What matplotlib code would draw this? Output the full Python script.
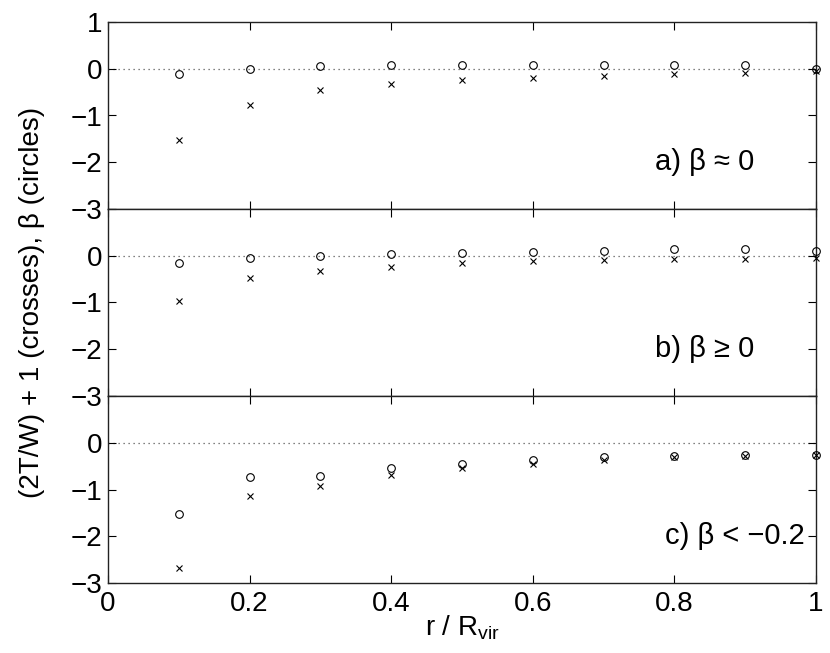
import matplotlib.pyplot as plt
import numpy as np

plt.rcParams['font.family'] = ['Liberation Sans', 'DejaVu Sans']

# radius in units of R_vir
r = [0.1, 0.2, 0.3, 0.4, 0.5, 0.6, 0.7, 0.8, 0.9, 1.0]

# a) beta ~ 0
virial_a = [-1.53, -0.78, -0.46, -0.33, -0.25, -0.20, -0.16, -0.12, -0.09, -0.05]
beta_a = [-0.12, -0.01, 0.06, 0.09, 0.08, 0.09, 0.07, 0.08, 0.09, -0.01]

# b) beta >= 0
virial_b = [-0.97, -0.48, -0.33, -0.23, -0.16, -0.12, -0.09, -0.08, -0.07, -0.05]
beta_b = [-0.15, -0.05, -0.01, 0.03, 0.06, 0.08, 0.11, 0.15, 0.14, 0.10]

# c) beta < -0.2
virial_c = [-2.68, -1.14, -0.92, -0.70, -0.55, -0.45, -0.36, -0.31, -0.28, -0.27]
beta_c = [-1.52, -0.74, -0.72, -0.55, -0.45, -0.37, -0.31, -0.28, -0.26, -0.27]

labels = ['a) β ≈ 0', 'b) β ≥ 0', 'c) β < \u22120.2']
label_x = [0.772, 0.772, 0.787]

fig = plt.figure(figsize=(8.3, 6.53), dpi=100)
left, right = 108 / 830, 816 / 830
top, bottom = 1 - 22 / 653, 1 - 583 / 653
h = (top - bottom) / 3

panels = [(virial_a, beta_a), (virial_b, beta_b), (virial_c, beta_c)]
axes = []
for i, (vir, bet) in enumerate(panels):
    ax = fig.add_axes([left, top - (i + 1) * h, right - left, h])
    ax.axhline(0, color='0.35', linestyle=(0, (1, 3)), linewidth=0.9, zorder=1)
    ax.plot(r, vir, linestyle='none', marker='x', color='black',
            markersize=5, markeredgewidth=0.8, clip_on=False, zorder=3)
    ax.plot(r, bet, linestyle='none', marker='o', markerfacecolor='none',
            markeredgecolor='black', markersize=5.5, markeredgewidth=0.8,
            clip_on=False, zorder=3)
    ax.set_xlim(0, 1)
    ax.set_ylim(-3, 1)
    ax.set_xticks(np.arange(0, 1.01, 0.2))
    ax.set_yticks([-3, -2, -1, 0, 1])
    if i > 0:
        ax.set_yticklabels(['\u22123', '\u22122', '\u22121', '0', ''])
    else:
        ax.set_yticklabels(['\u22123', '\u22122', '\u22121', '0', '1'])
    ax.tick_params(direction='in', top=True, right=True, length=6,
                   width=0.8, labelsize=20, pad=4)
    ax.tick_params(axis='x', pad=6)
    if i < 2:
        ax.tick_params(labelbottom=False)
    else:
        ax.set_xticklabels(['0', '0.2', '0.4', '0.6', '0.8', '1'])
    for s in ax.spines.values():
        s.set_linewidth(1.0)
        s.set_color('#222222')
    ax.text(label_x[i], -2.0, labels[i], fontsize=21, va='center', ha='left')
    axes.append(ax)

axes[2].set_xlabel(r'r / R$_{\mathregular{vir}}$', fontsize=20, labelpad=-3)
fig.text(0.038, (top + bottom) / 2, '(2T/W) + 1 (crosses), β (circles)',
         rotation=90, fontsize=20, va='center', ha='center')

fig.savefig('out.png', dpi=100)
